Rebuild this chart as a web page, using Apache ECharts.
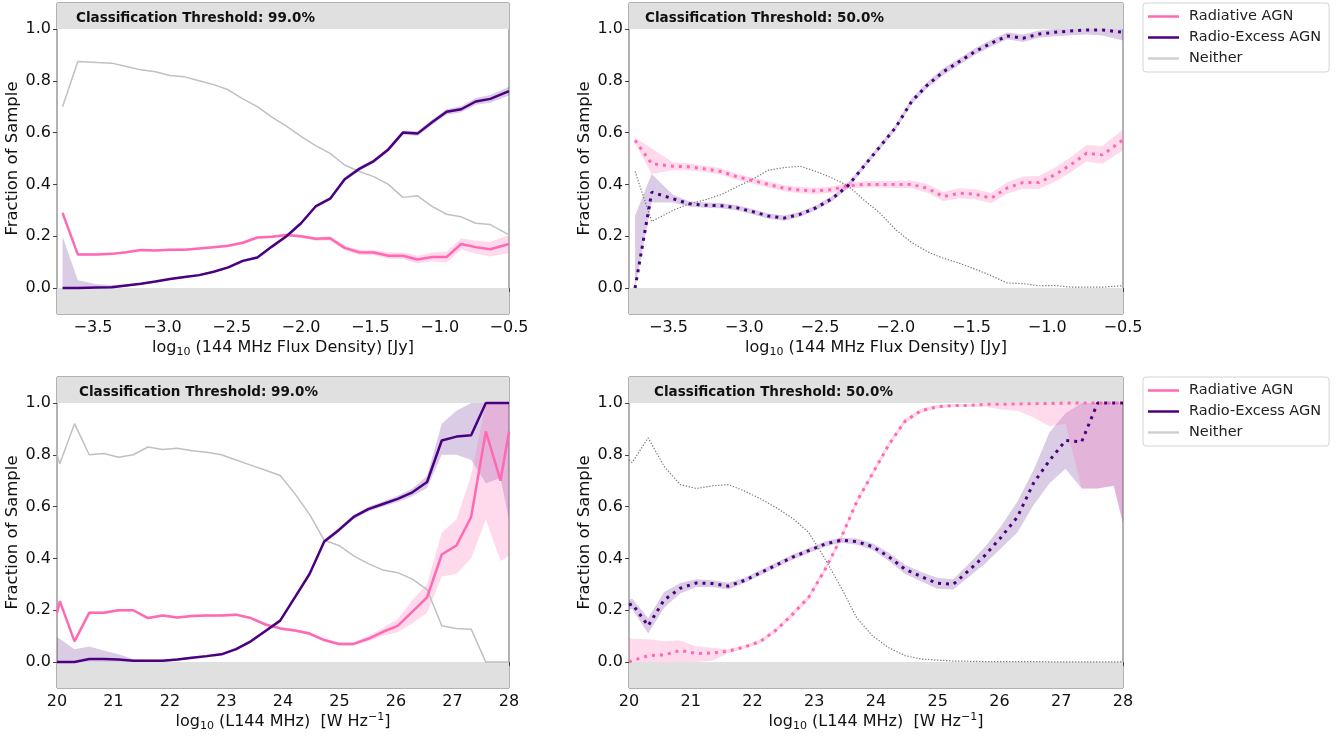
<!DOCTYPE html>
<html><head><meta charset="utf-8">
<script src="https://cdn.jsdelivr.net/npm/echarts@6/dist/echarts.min.js"></script>
<style>html,body{margin:0;padding:0;background:#fff}#c{width:1341px;height:737px}</style>
</head><body><div id="c"></div>
<script>
// ---------- DATA ----------
const TOP_X = [-3.72,-3.61,-3.47,-3.365,-3.26,-3.155,-3.05,-2.945,-2.84,-2.735,-2.63,-2.525,-2.42,-2.315,-2.21,-2.105,-2.0,-1.895,-1.79,-1.685,-1.58,-1.475,-1.37,-1.265,-1.16,-1.055,-0.95,-0.845,-0.74,-0.635,-0.5];
const TOP_X_TICKS = [-3.5,-3.0,-2.5,-2.0,-1.5,-1.0,-0.5];
const BOT_X = [20.0,20.05,20.31,20.57,20.83,21.09,21.35,21.61,21.87,22.13,22.39,22.65,22.91,23.17,23.43,23.69,23.95,24.21,24.47,24.73,24.99,25.25,25.51,25.77,26.03,26.29,26.55,26.81,27.07,27.33,27.59,27.85,28.0];
const BOT_X_TICKS = [20,21,22,23,24,25,26,27,28];
const Y_TICKS = [0.0,0.2,0.4,0.6,0.8,1.0];
const SERIES_NAMES = ['Radiative AGN','Radio-Excess AGN','Neither'];
const TITLES = ['Classification Threshold: 99.0%','Classification Threshold: 50.0%','Classification Threshold: 99.0%','Classification Threshold: 50.0%'];

// top-left (flux, 99%)
const TL_RAD    = [0.29,0.13,0.13,0.132,0.138,0.147,0.145,0.148,0.148,0.153,0.158,0.163,0.175,0.195,0.198,0.205,0.20,0.19,0.192,0.155,0.138,0.137,0.125,0.125,0.11,0.12,0.12,0.17,0.158,0.15,0.17];
const TL_RAD_LO = [0.28,0.125,0.126,0.128,0.134,0.143,0.141,0.144,0.144,0.149,0.154,0.158,0.17,0.19,0.193,0.2,0.194,0.183,0.184,0.146,0.128,0.127,0.113,0.112,0.095,0.103,0.1,0.148,0.133,0.122,0.135];
const TL_RAD_HI = [0.30,0.135,0.134,0.136,0.142,0.151,0.149,0.152,0.152,0.157,0.162,0.168,0.18,0.2,0.203,0.21,0.206,0.197,0.2,0.164,0.148,0.147,0.137,0.138,0.125,0.137,0.14,0.192,0.183,0.178,0.205];
const TL_REX    = [0,0,0.002,0.003,0.01,0.017,0.025,0.035,0.043,0.05,0.063,0.08,0.105,0.118,0.16,0.2,0.25,0.315,0.345,0.42,0.46,0.49,0.535,0.6,0.596,0.64,0.68,0.69,0.72,0.73,0.76];
const TL_REX_LO = [0,0,0,0,0.006,0.013,0.021,0.031,0.039,0.046,0.059,0.076,0.1,0.113,0.155,0.195,0.245,0.31,0.339,0.413,0.453,0.483,0.527,0.592,0.587,0.63,0.669,0.678,0.707,0.715,0.743];
const TL_REX_HI = [0.20,0.03,0.015,0.012,0.015,0.021,0.029,0.039,0.047,0.054,0.067,0.084,0.11,0.123,0.165,0.205,0.255,0.32,0.351,0.427,0.467,0.497,0.543,0.608,0.605,0.65,0.691,0.702,0.733,0.745,0.777];
const TL_NEI    = [0.70,0.874,0.87,0.868,0.855,0.842,0.835,0.82,0.815,0.80,0.785,0.765,0.73,0.70,0.66,0.625,0.585,0.55,0.52,0.475,0.45,0.43,0.40,0.35,0.356,0.315,0.285,0.275,0.25,0.245,0.205];

// top-right (flux, 50%)
const TR_RAD    = [0.57,0.48,0.47,0.468,0.46,0.45,0.43,0.415,0.40,0.385,0.378,0.375,0.38,0.395,0.40,0.40,0.40,0.40,0.385,0.353,0.366,0.362,0.347,0.386,0.407,0.407,0.437,0.476,0.52,0.514,0.572];
const TR_RAD_LO = [0.56,0.44,0.455,0.455,0.448,0.438,0.418,0.403,0.388,0.373,0.366,0.363,0.368,0.383,0.388,0.388,0.386,0.385,0.368,0.335,0.347,0.343,0.327,0.364,0.383,0.382,0.41,0.447,0.488,0.48,0.532];
const TR_RAD_HI = [0.58,0.54,0.485,0.481,0.472,0.462,0.442,0.427,0.412,0.397,0.39,0.387,0.392,0.407,0.412,0.412,0.414,0.415,0.402,0.371,0.385,0.381,0.367,0.408,0.431,0.432,0.464,0.505,0.552,0.548,0.612];
const TR_REX    = [0.0,0.37,0.345,0.325,0.32,0.318,0.31,0.295,0.278,0.27,0.285,0.31,0.345,0.395,0.47,0.545,0.62,0.72,0.784,0.835,0.874,0.913,0.945,0.973,0.964,0.98,0.987,0.992,0.996,0.996,0.987];
const TR_REX_LO = [0,0.33,0.33,0.315,0.31,0.308,0.3,0.285,0.268,0.26,0.275,0.3,0.335,0.385,0.46,0.535,0.61,0.708,0.772,0.822,0.861,0.9,0.932,0.96,0.95,0.966,0.972,0.976,0.978,0.975,0.955];
const TR_REX_HI = [0.28,0.44,0.36,0.335,0.33,0.328,0.32,0.305,0.288,0.28,0.295,0.32,0.355,0.405,0.48,0.555,0.63,0.732,0.796,0.848,0.887,0.926,0.958,0.986,0.978,0.994,1.0,1.0,1.0,1.0,1.0];
const TR_NEI    = [0.45,0.257,0.30,0.325,0.34,0.36,0.39,0.42,0.455,0.465,0.47,0.45,0.425,0.395,0.34,0.29,0.225,0.176,0.14,0.115,0.096,0.073,0.048,0.02,0.017,0.009,0.01,0.004,0.004,0.004,0.009];

// bottom-left (luminosity, 99%)
const BL_RAD    = [0.19,0.235,0.08,0.19,0.19,0.20,0.20,0.17,0.18,0.172,0.178,0.18,0.18,0.183,0.17,0.145,0.13,0.122,0.11,0.085,0.07,0.07,0.09,0.117,0.14,0.195,0.25,0.415,0.45,0.56,0.89,0.70,0.89];
const BL_RAD_LO = [0.185,0.23,0.075,0.185,0.185,0.195,0.195,0.165,0.175,0.167,0.173,0.175,0.175,0.178,0.165,0.14,0.125,0.116,0.104,0.079,0.064,0.063,0.08,0.102,0.115,0.15,0.19,0.33,0.34,0.40,0.55,0.39,0.41];
const BL_RAD_HI = [0.195,0.24,0.085,0.195,0.195,0.205,0.205,0.175,0.185,0.177,0.183,0.185,0.185,0.188,0.175,0.15,0.135,0.128,0.116,0.091,0.076,0.077,0.1,0.132,0.165,0.24,0.30,0.50,0.55,0.72,1.0,1.0,1.0];
const BL_REX    = [0,0,0,0.012,0.012,0.01,0.005,0.005,0.005,0.01,0.017,0.023,0.03,0.05,0.08,0.12,0.16,0.25,0.34,0.465,0.51,0.56,0.59,0.61,0.63,0.655,0.695,0.855,0.87,0.875,1.0,1.0,1.0];
const BL_REX_LO = [0,0,0,0,0,0,0,0,0,0.006,0.012,0.018,0.025,0.045,0.075,0.114,0.154,0.243,0.333,0.457,0.502,0.552,0.581,0.6,0.618,0.64,0.672,0.80,0.80,0.78,0.69,0.71,0.55];
const BL_REX_HI = [0.095,0.09,0.05,0.06,0.045,0.03,0.012,0.01,0.01,0.014,0.022,0.028,0.035,0.055,0.085,0.126,0.166,0.257,0.347,0.473,0.518,0.568,0.599,0.62,0.642,0.67,0.718,0.92,0.97,1.0,1.0,1.0,1.0];
const BL_NEI    = [0.80,0.765,0.92,0.80,0.805,0.79,0.80,0.83,0.82,0.825,0.815,0.81,0.80,0.78,0.76,0.74,0.72,0.65,0.57,0.47,0.45,0.41,0.38,0.355,0.345,0.32,0.28,0.14,0.13,0.127,0.0,0.0,0.0];

// bottom-right (luminosity, 50%)
const BR_RAD    = [0.0,0.005,0.025,0.028,0.045,0.033,0.035,0.042,0.058,0.08,0.125,0.185,0.25,0.355,0.477,0.62,0.73,0.84,0.93,0.97,0.985,0.99,0.99,0.995,0.995,0.996,0.997,0.998,0.999,1.0,1.0,1.0,1.0];
const BR_RAD_LO = [0,0,0,0,0,0,0.005,0.035,0.051,0.073,0.117,0.175,0.24,0.345,0.467,0.61,0.72,0.83,0.92,0.962,0.978,0.985,0.985,0.985,0.975,0.97,0.945,0.91,0.92,0.67,0.67,0.68,0.535];
const BR_RAD_HI = [0.092,0.09,0.088,0.08,0.083,0.06,0.055,0.05,0.065,0.087,0.133,0.195,0.26,0.365,0.487,0.63,0.74,0.85,0.94,0.978,0.992,0.995,0.995,1,1,1,1,1,1,1,1,1,1];
const BR_REX    = [0.22,0.225,0.14,0.24,0.285,0.305,0.303,0.293,0.315,0.345,0.375,0.405,0.43,0.455,0.47,0.465,0.445,0.406,0.358,0.33,0.304,0.30,0.355,0.413,0.483,0.56,0.69,0.778,0.855,0.85,1.0,1.0,1.0];
const BR_REX_LO = [0.2,0.205,0.11,0.21,0.265,0.29,0.29,0.28,0.305,0.335,0.365,0.395,0.42,0.445,0.46,0.453,0.432,0.39,0.34,0.312,0.283,0.28,0.33,0.38,0.44,0.50,0.605,0.69,0.746,0.67,0.67,0.68,0.535];
const BR_REX_HI = [0.24,0.245,0.17,0.27,0.305,0.32,0.316,0.306,0.325,0.355,0.385,0.415,0.44,0.465,0.48,0.477,0.458,0.422,0.376,0.348,0.325,0.32,0.38,0.446,0.526,0.62,0.74,0.887,0.96,1.0,1.0,1.0,1.0];
const BR_NEI    = [0.78,0.77,0.865,0.755,0.685,0.67,0.68,0.685,0.66,0.63,0.595,0.555,0.50,0.40,0.29,0.17,0.10,0.055,0.025,0.012,0.008,0.004,0.003,0.002,0.002,0.002,0.002,0.001,0.001,0.001,0.001,0.001,0.001];

// ---------- STYLE / LAYOUT ----------
const FONT = "'DejaVu Sans', sans-serif";
const PINK = '#ff69b4', PURPLE = '#4b0082', SILVER = '#c0c0c0', DGRAY = '#777777';
const PINK_BAND = 'rgba(255,105,180,0.25)', PURPLE_BAND = 'rgba(75,0,130,0.2)';
const GRIDS = [
  {left:57, top:3, width:452, height:311},
  {left:629, top:3, width:494, height:311},
  {left:57, top:377, width:452, height:311},
  {left:629, top:377, width:494, height:311}
];
const TITLE_POS = [[76,11],[645,11],[79,385],[654,385]];
const minus = v => (v < 0 ? '\u2212' : '') + Math.abs(v).toFixed(1);

const panels = [
  {X:TOP_X, ticks:TOP_X_TICKS, min:-3.76, max:-0.5, fmt:minus, xname:'{t|log}{s|10}{t| (144 MHz Flux Density) [Jy]}',
   rad:TL_RAD, radLo:TL_RAD_LO, radHi:TL_RAD_HI, rex:TL_REX, rexLo:TL_REX_LO, rexHi:TL_REX_HI, nei:TL_NEI, dotted:false},
  {X:TOP_X, ticks:TOP_X_TICKS, min:-3.76, max:-0.5, fmt:minus, xname:'{t|log}{s|10}{t| (144 MHz Flux Density) [Jy]}',
   rad:TR_RAD, radLo:TR_RAD_LO, radHi:TR_RAD_HI, rex:TR_REX, rexLo:TR_REX_LO, rexHi:TR_REX_HI, nei:TR_NEI, dotted:true},
  {X:BOT_X, ticks:BOT_X_TICKS, min:20, max:28, fmt:v=>String(v), xname:'{t|log}{s|10}{t| (L144 MHz)  [W Hz}{p|\u22121}{t|]}',
   rad:BL_RAD, radLo:BL_RAD_LO, radHi:BL_RAD_HI, rex:BL_REX, rexLo:BL_REX_LO, rexHi:BL_REX_HI, nei:BL_NEI, dotted:false},
  {X:BOT_X, ticks:BOT_X_TICKS, min:20, max:28, fmt:v=>String(v), xname:'{t|log}{s|10}{t| (L144 MHz)  [W Hz}{p|\u22121}{t|]}',
   rad:BR_RAD, radLo:BR_RAD_LO, radHi:BR_RAD_HI, rex:BR_REX, rexLo:BR_REX_LO, rexHi:BR_REX_HI, nei:BR_NEI, dotted:true}
];

function bandSeries(i, X, lo, hi, color){
  return {
    type:'custom', name:'band', xAxisIndex:i, yAxisIndex:i, z:2, silent:true, clip:true,
    data: X.map((x,k)=>[x, lo[k], hi[k]]), encode:{x:0, y:[1,2]},
    renderItem: function(params, api){
      if (params.dataIndex !== 0) return null;
      const pts = [];
      for (let k=0;k<X.length;k++) pts.push(api.coord([X[k], hi[k]]));
      for (let k=X.length-1;k>=0;k--) pts.push(api.coord([X[k], lo[k]]));
      return {type:'polygon', shape:{points:pts}, style:{fill:color, stroke:null}};
    }
  };
}
function lineSeries(i, name, X, Y, style, z){
  return {type:'line', name, xAxisIndex:i, yAxisIndex:i, z, showSymbol:false, symbol:'none', clip:true,
    silent:true, data: X.map((x,k)=>[x, Y[k]]), lineStyle: style, itemStyle:{color:style.color}};
}

const grid=[], xAxis=[], yAxis=[], series=[], title=[];
panels.forEach((p,i)=>{
  grid.push(Object.assign({show:true, borderColor:'#666', borderWidth:1, backgroundColor:'#fff'}, GRIDS[i]));
  xAxis.push({type:'value', gridIndex:i, min:p.min, max:p.max,
    axisLine:{show:false}, splitLine:{show:false},
    axisTick:{show:true, length:4, inside:false, customValues:p.ticks, lineStyle:{color:'#444'}},
    axisLabel:{customValues:p.ticks, formatter:p.fmt, fontFamily:FONT, fontSize:16, color:'#111', margin:6},
    name:p.xname, nameLocation:'middle', nameGap:24,
    nameTextStyle:{fontFamily:FONT, fontSize:16, color:'#111',
      rich:{t:{fontFamily:FONT, fontSize:16, lineHeight:20, verticalAlign:'middle', color:'#111'},
            s:{fontFamily:FONT, fontSize:11, lineHeight:12, verticalAlign:'bottom', color:'#111'},
            p:{fontFamily:FONT, fontSize:11, lineHeight:10, verticalAlign:'top', color:'#111'}}}
  });
  yAxis.push({type:'value', gridIndex:i, min:-0.1, max:1.1,
    axisLine:{show:false}, splitLine:{show:false},
    axisTick:{show:true, length:4, customValues:Y_TICKS, lineStyle:{color:'#444'}},
    axisLabel:{customValues:Y_TICKS, formatter:v=>v.toFixed(1), fontFamily:FONT, fontSize:16, color:'#111', margin:6},
    name:'Fraction of Sample', nameLocation:'middle', nameGap:33,
    nameTextStyle:{fontFamily:FONT, fontSize:16.5, color:'#111'}
  });
  title.push({text:TITLES[i], left:TITLE_POS[i][0], top:TITLE_POS[i][1], padding:0,
    textStyle:{fontFamily:FONT, fontSize:13.5, fontWeight:'bold', color:'#111'}});
  // shaded out-of-range bands
  series.push({type:'line', name:'shade', xAxisIndex:i, yAxisIndex:i, z:1, data:[], silent:true,
    markArea:{silent:true, itemStyle:{color:'#e0e0e0'}, data:[[{yAxis:1.0},{yAxis:1.1}],[{yAxis:-0.1},{yAxis:0.0}]]}});
  series.push(bandSeries(i, p.X, p.rexLo, p.rexHi, PURPLE_BAND));
  series.push(bandSeries(i, p.X, p.radLo, p.radHi, PINK_BAND));
  if (p.dotted){
    series.push(lineSeries(i, SERIES_NAMES[2], p.X, p.nei, {color:DGRAY, width:1.2, type:[1.3,1.7]}, 3));
    series.push(lineSeries(i, SERIES_NAMES[0], p.X, p.rad, {color:PINK, width:3, type:[3,5], cap:'butt'}, 4));
    series.push(lineSeries(i, SERIES_NAMES[1], p.X, p.rex, {color:PURPLE, width:3, type:[3,5], cap:'butt'}, 5));
  } else {
    series.push(lineSeries(i, SERIES_NAMES[2], p.X, p.nei, {color:SILVER, width:1.5}, 3));
    series.push(lineSeries(i, SERIES_NAMES[0], p.X, p.rad, {color:PINK, width:2.5}, 4));
    series.push(lineSeries(i, SERIES_NAMES[1], p.X, p.rex, {color:PURPLE, width:2.5}, 5));
  }
});

const LEGEND_COLORS = [PINK, PURPLE, '#d0d0d0'];
function legendAt(top){
  return {left:1143, top, orient:'vertical', selectedMode:false,
    backgroundColor:'#fff', borderColor:'#d4d4d4', borderWidth:1, borderRadius:3,
    padding:[5,8,5,5], itemGap:4, itemWidth:31, itemHeight:2.5,
    textStyle:{fontFamily:FONT, fontSize:14.5, color:'#222', lineHeight:17, padding:[0,0,0,5]},
    data: SERIES_NAMES.map((n,k)=>({name:n, icon:'rect', itemStyle:{color:LEGEND_COLORS[k], borderWidth:0}}))};
}

const chart = echarts.init(document.getElementById('c'), null, {renderer:'canvas'});
chart.setOption({animation:false, backgroundColor:'#fff', title, grid, xAxis, yAxis, series,
  legend:[legendAt(3), legendAt(377)]});
</script></body></html>
